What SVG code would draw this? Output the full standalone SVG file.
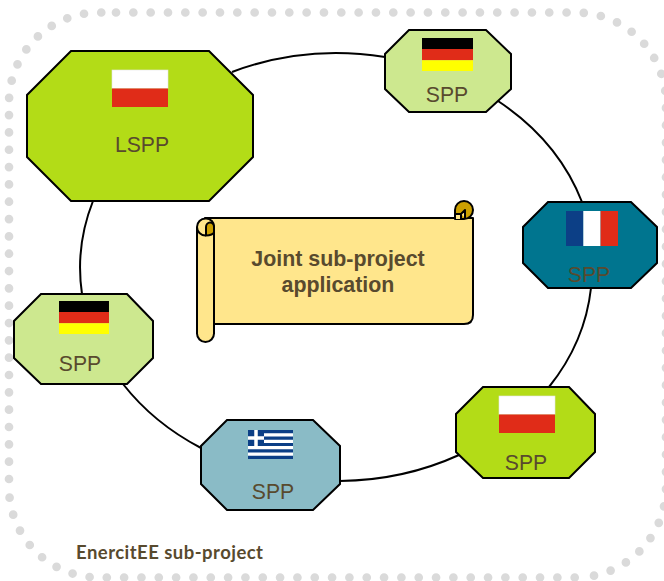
<svg xmlns="http://www.w3.org/2000/svg" width="664" height="581" viewBox="0 0 664 581">
<style>
.oct{stroke:#000;stroke-width:2;stroke-linejoin:miter}
.lbl{font-family:"Liberation Sans",Arial,sans-serif;font-size:21.200px;fill:#584a2e;text-anchor:middle}
.ttl{font-family:"Liberation Sans",Arial,sans-serif;font-size:21.400px;font-weight:bold;fill:#584a2e;text-anchor:middle}
.conn{fill:none;stroke:#000;stroke-width:2}
.sc{stroke:#000;stroke-width:2;stroke-linejoin:round}
.dots{fill:none;stroke:#dadada;stroke-width:8.700;stroke-linecap:round;stroke-dasharray:0 17.330}
</style>
<defs>
<g id="flag-de"><rect width="51" height="11" fill="#000"/><rect y="11" width="51" height="11.300" fill="#e02c18"/><rect y="22.300" width="51" height="10.700" fill="#ff0"/></g>
<g id="flag-pl"><rect width="56" height="18.500" fill="#fff" stroke="#e4e4e4" stroke-width=".6"/><rect y="18.500" width="56" height="18.500" fill="#e02c18"/></g>
</defs>
<g id="border">
<path class="dots" d="M116 12.500H576A90 90 0 0 1 666 102.500V487.500A90 90 0 0 1 581 577.360"/>
<path class="dots" d="M574.700 577.500H99A90 90 0 0 1 9 487.500"/>
<path class="dots" d="M9 479V102.500A90 90 0 0 1 99 12.500H103"/>
</g>
<g id="connectors">
<path class="conn" d="M232 72A255 213 0 0 1 385 57"/>
<path class="conn" d="M498 101A255 213 0 0 1 582 202"/>
<path class="conn" d="M591 288A255 213 0 0 1 549 387"/>
<path class="conn" d="M459 455A255 213 0 0 1 340 481"/>
<path class="conn" d="M201 448A255 213 0 0 1 123 384"/>
<path class="conn" d="M82 294A255 213 0 0 1 93 201"/>
</g>
<g id="node-lspp">
<polygon class="oct" points="71,51 209,51 253,95 253,157 209,201 71,201 27,157 27,95" fill="#b3dc17"/>
<use href="#flag-pl" x="112" y="70"/>
<text class="lbl" x="142" y="152">LSPP</text>
</g>
<g id="node-spp-de-top">
<polygon class="oct" points="409,30 486,30 511,54 511,89 486,112 409,112 385,89 385,54" fill="#cde88f"/>
<use href="#flag-de" x="422" y="38"/>
<text class="lbl" x="447" y="102">SPP</text>
</g>
<g id="node-spp-fr">
<polygon class="oct" points="548,202 631,202 657,227 657,263 631,288 548,288 523,263 523,227" fill="#00758f"/>
<rect x="566" y="211" width="17.300" height="35" fill="#0c3f86"/><rect x="583.300" y="211" width="17.300" height="35" fill="#fff"/><rect x="600.600" y="211" width="17.400" height="35" fill="#e02c18"/>
<text class="lbl" x="589" y="282">SPP</text>
</g>
<g id="node-spp-de-left">
<polygon class="oct" points="41,294 127,294 153,321 153,358 127,384 41,384 14,358 14,321" fill="#cde88f"/>
<use href="#flag-de" transform="translate(59 301) scale(.98 1)"/>
<text class="lbl" x="80" y="371">SPP</text>
</g>
<g id="node-spp-gr">
<polygon class="oct" points="227,420 313,420 340,446 340,484 313,510 227,510 201,484 201,446" fill="#8abbc6"/>
<rect x="248" y="430" width="45" height="29" fill="#0c3f86"/>
<path d="M264 434.800H293M264 441.300H293M248 447.700H293M248 454.200H293" stroke="#fff" stroke-width="3.200"/>
<path d="M248 438H264M256 430V446" stroke="#fff" stroke-width="3.500"/>
<text class="lbl" x="273" y="499">SPP</text>
</g>
<g id="node-spp-pl">
<polygon class="oct" points="483,387 569,387 595,414 595,452 569,478 483,478 456,452 456,414" fill="#b3dc17"/>
<use href="#flag-pl" x="499" y="396"/>
<text class="lbl" x="526" y="470">SPP</text>
</g>
<g id="node-application">
<path class="sc" d="M205 218H473V315Q473 324 464 324H205Z" fill="#ffe68c"/>
<path class="sc" d="M455 218V210A9 9 0 1 1 473 210C473 215 469 219 464 219H455Z" fill="#cca000"/>
<path class="sc" d="M455 219V214H461V219M461 214L465 210V218" fill="#ffe68c" stroke-width="1.200"/>
<path class="sc" d="M197 227A8.500 8.500 0 0 1 205.500 218.500H206A8 8 0 0 1 214 227V333.500A8.500 8.500 0 0 1 197 333.500Z" fill="#ffe68c"/>
<path class="sc" d="M214 232V227A4 4.500 0 0 0 206 227V235.500C210 235.500 214 234 214 232Z" fill="#cca000"/>
<path class="sc" d="M197 227A8.500 8.500 0 0 0 205.500 235.500H206" fill="none"/>
<text class="ttl" x="338" y="266">Joint sub-project</text>
<text class="ttl" x="338" y="292">application</text>
</g>
<text id="caption" x="76" y="559" font-family="Lato,'Noto Sans',sans-serif" font-size="18.500" font-weight="bold" fill="#584a2e" textLength="187">EnercitEE sub-project</text>
</svg>
